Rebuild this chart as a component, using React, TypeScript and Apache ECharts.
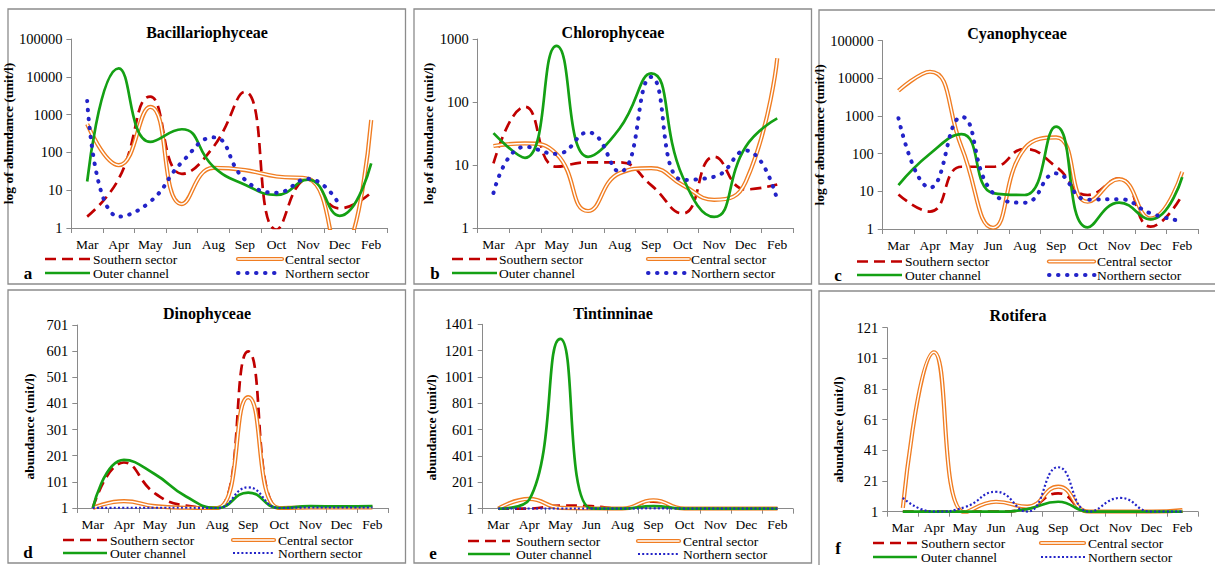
import React, { useEffect, useRef } from "react";
import * as echarts from "echarts";

const months = ["Mar", "Apr", "May", "Jun", "Aug", "Sep", "Oct", "Nov", "Dec", "Feb"];
const seriesNames = ["Southern sector", "Central sector", "Outer channel", "Northern sector"];

// (a) Bacillariophyceae
const bacSouthern = [2, 20, 3000, 27, 140, 4000, 0.9, 20, 3.3, 8.6];
const bacCentral = [560, 46, 1600, 4.3, 39, 34, 23, 20, 0.2, 720];
const bacOuter = [17, 16700, 190, 410, 42, 14, 7.5, 19, 2.1, 51];
const bacNorthern = [2300, 2, 5, 55, 250, 19, 8.6, 20, 4, null];

// (b) Chlorophyceae
const chlSouthern = [10.6, 84, 9.4, 11, 11, 4.8, 1.7, 13.5, 4.1, 4.9];
const chlCentral = [20, 22, 15, 1.86, 7.4, 8.9, 4.8, 2.8, 5.4, 495];
const chlOuter = [32, 13, 780, 13.5, 38, 285, 6.5, 1.5, 19.5, 55];
const chlNorthern = [3.6, 19.5, 15, 33, 7.8, 250, 5.8, 6.5, 17, 2.8];

// (c) Cyanophyceae
const cyaSouthern = [8.3, 2.9, 45, 45, 133, 45, 8, 22, 1.15, 8];
const cyaCentral = [4700, 15000, 150, 1.08, 138, 270, 5.3, 21, 1.9, 33];
const cyaOuter = [14.7, 100, 330, 9, 8, 520, 1.1, 5, 1.8, 24];
const cyaNorthern = [870, 12.5, 950, 9, 5, 30, 6, 6.2, 2.6, 1.6];

// (d) Dinophyceae
const dinSouthern = [1, 175, 57, 10, 1, 600, 1, 5, 5, 5];
const dinCentral = [1, 27, 8, 2, 1, 425, 1, 3, 3, 3];
const dinOuter = [1, 185, 130, 45, 1, 60, 1, 8, 7, 8];
const dinNorthern = [1, 2, 2, 2, 1, 80, 1, 3, 3, 3];

// (e) Tintinninae
const tinSouthern = [1, 2, 25, 20, 1, 55, 1, 1, 1, 1];
const tinCentral = [1, 75, 8, 3, 1, 65, 1, 1, 1, 1];
const tinOuter = [1, 70, 1290, 3, 1, 20, 1, 1, 1, 1];
const tinNorthern = [1, 1, 1, 1, 1, 3, 1, 1, 1, 1];

// (f) Rotifera
const rotSouthern = [1, 1, 1, 1, 3, 13, 1, 1, 1, 1];
const rotCentral = [3.5, 105, 0.5, 7.5, 4.3, 17.3, 1, 1, 1, 2];
const rotOuter = [1, 1, 1, 1, 2.7, 7.5, 1, 1, 1, 1];
const rotNorthern = [10, 1, 4, 14, 1, 30, 1, 10, 1, 1];

const RED = "#C00000";
const ORANGE = "#F07D22";
const GREEN = "#14A014";
const BLUE = "#2323C8";
const GRAY = "#8A8A8A";
const FONT = "Liberation Serif, serif";

type Panel = {
  letter: string;
  title: string;
  yName: string;
  log: boolean;
  yMax: number;
  interval?: number;
  data: (number | null)[][];
  box: number[];
  grid: number[];
  titleXY: number[];
  nameGap: number;
  namePad: number;
  letterXY: number[];
  c1: number[];
  c2: number[];
  rows: number[];
  fineDots: boolean;
};

const panels: Panel[] = [
  {
    letter: "a", title: "Bacillariophyceae", yName: "log of abundance (unit/l)", log: true, yMax: 100000,
    data: [bacSouthern, bacCentral, bacOuter, bacNorthern],
    box: [8, 9, 405.5, 284], grid: [71, 39, 387, 228], titleXY: [207, 32], nameGap: 43, namePad: 0,
    letterXY: [28, 273], c1: [45, 90, 93], c2: [237, 283, 285], rows: [259, 273], fineDots: false,
  },
  {
    letter: "b", title: "Chlorophyceae", yName: "log of abundance (unit/l)", log: true, yMax: 1000,
    data: [chlSouthern, chlCentral, chlOuter, chlNorthern],
    box: [414, 9, 811.5, 284], grid: [477.7, 39, 793, 228], titleXY: [613, 32], nameGap: 41, namePad: 0,
    letterXY: [435, 273], c1: [452, 497, 499], c2: [647, 690, 691], rows: [259, 273], fineDots: false,
  },
  {
    letter: "c", title: "Cyanophyceae", yName: "log of abundance (unit/l)", log: true, yMax: 100000,
    data: [cyaSouthern, cyaCentral, cyaOuter, cyaNorthern],
    box: [819, 10, 1217, 284], grid: [882.7, 40.7, 1198, 229], titleXY: [1017, 33], nameGap: 41, namePad: 0,
    letterXY: [838, 275], c1: [857, 902, 905], c2: [1048, 1095, 1097], rows: [261.5, 275], fineDots: false,
  },
  {
    letter: "d", title: "Dinophyceae", yName: "abundance (unit/l)", log: false, yMax: 701, interval: 100,
    data: [dinSouthern, dinCentral, dinOuter, dinNorthern],
    box: [8, 290, 405.5, 563], grid: [77.3, 325, 388, 508], titleXY: [207, 313], nameGap: 41, namePad: 20,
    letterXY: [28, 552], c1: [63, 107, 110], c2: [232, 275, 278], rows: [540, 553], fineDots: true,
  },
  {
    letter: "e", title: "Tintinninae", yName: "abundance (unit/l)", log: false, yMax: 1401, interval: 200,
    data: [tinSouthern, tinCentral, tinOuter, tinNorthern],
    box: [414, 290, 811.5, 563], grid: [482.7, 324.3, 793, 508.7], titleXY: [613, 313], nameGap: 44, namePad: 22,
    letterXY: [433, 553], c1: [468, 510, 516], c2: [637, 680, 683], rows: [541, 554], fineDots: true,
  },
  {
    letter: "f", title: "Rotifera", yName: "abundance (unit/l)", log: false, yMax: 121, interval: 20,
    data: [rotSouthern, rotCentral, rotOuter, rotNorthern],
    box: [819, 291, 1217, 567], grid: [887.3, 327.7, 1198, 511.7], titleXY: [1018, 315], nameGap: 42, namePad: 20,
    letterXY: [838, 548], c1: [873, 917, 921], c2: [1040, 1085, 1088], rows: [543, 557], fineDots: true,
  },
];

const dashStyle = [11, 6];

function northernStyle(fine: boolean) {
  return fine
    ? { color: BLUE, width: 2.2, type: [2, 2.2], cap: "butt" }
    : { color: BLUE, width: 4, type: [0.5, 8.5], cap: "round" };
}

function textEl(text: string, x: number, y: number, size: number, bold: boolean, align = "left") {
  return {
    type: "text",
    x,
    y,
    silent: true,
    style: {
      text,
      fontFamily: FONT,
      fontSize: size,
      fontWeight: bold ? "bold" : "normal",
      fill: "#000",
      align,
      textAlign: align,
      verticalAlign: "middle",
      textVerticalAlign: "middle",
    },
  };
}

function lineEl(x1: number, x2: number, y: number, style: any) {
  return { type: "line", silent: true, shape: { x1, y1: y, x2, y2: y }, style: { fill: "none", ...style } };
}

export default function App() {
  const ref = useRef<HTMLDivElement>(null);

  useEffect(() => {
    if (!ref.current) return;
    const chart = echarts.init(ref.current, null, { renderer: "svg" });

    const grids: any[] = [];
    const xAxes: any[] = [];
    const yAxes: any[] = [];
    const series: any[] = [];
    const graphics: any[] = [];

    panels.forEach((p, i) => {
      const [gl, gt, gr, gb] = p.grid;
      grids.push({ left: gl, top: gt, width: gr - gl, height: gb - gt, containLabel: false });
      xAxes.push({
        type: "category",
        gridIndex: i,
        data: months,
        boundaryGap: true,
        axisLine: { lineStyle: { color: GRAY, width: 1 } },
        axisTick: { show: true, length: 5, alignWithLabel: false, lineStyle: { color: GRAY } },
        axisLabel: { color: "#000", fontFamily: FONT, fontSize: 13.5, margin: 9, interval: 0 },
        splitLine: { show: false },
      });
      const common = {
        gridIndex: i,
        name: p.yName,
        nameLocation: "middle",
        nameGap: p.nameGap,
        nameTextStyle: {
          color: "#000",
          fontFamily: FONT,
          fontWeight: "bold",
          fontSize: 13.5,
          padding: [0, p.namePad, 0, 0],
        },
        axisLine: { show: true, lineStyle: { color: GRAY, width: 1 } },
        axisTick: { show: true, length: 5, lineStyle: { color: GRAY } },
        axisLabel: {
          color: "#000",
          fontFamily: FONT,
          fontSize: 14.5,
          margin: 9,
          formatter: (v: number) => String(Math.round(v)),
        },
        splitLine: { show: false },
      };
      if (p.log) {
        yAxes.push({ ...common, type: "log", logBase: 10, min: 1, max: p.yMax });
      } else {
        yAxes.push({ ...common, type: "value", min: 1, max: p.yMax, interval: p.interval });
      }

      const base = {
        type: "line",
        xAxisIndex: i,
        yAxisIndex: i,
        smooth: 0.5,
        symbol: "none",
        showSymbol: false,
        clip: true,
        silent: true,
        connectNulls: false,
      };
      const [s, c, o, n] = p.data;
      series.push({ ...base, name: seriesNames[0], data: s, z: 2, lineStyle: { color: RED, width: 2.7, type: dashStyle } });
      series.push({ ...base, name: seriesNames[1], data: c, z: 3, lineStyle: { color: ORANGE, width: 4.2 } });
      series.push({ ...base, name: seriesNames[1] + " ", data: c, z: 4, lineStyle: { color: "#ffffff", width: 1.5 } });
      series.push({ ...base, name: seriesNames[2], data: o, z: 5, lineStyle: { color: GREEN, width: 2.7 } });
      series.push({ ...base, name: seriesNames[3], data: n, z: 6, lineStyle: northernStyle(p.fineDots) });

      const [bx1, by1, bx2, by2] = p.box;
      graphics.push({
        type: "rect",
        silent: true,
        shape: { x: bx1, y: by1, width: bx2 - bx1, height: by2 - by1 },
        style: { fill: "none", stroke: "#8C8C8C", lineWidth: 1.3 },
      });
      graphics.push(textEl(p.title, p.titleXY[0], p.titleXY[1], 16, true, "center"));
      graphics.push(textEl(p.letter, p.letterXY[0], p.letterXY[1], 17, true, "center"));

      const [r1, r2] = p.rows;
      const [a1, a2, at] = p.c1;
      const [b1, b2, bt] = p.c2;
      graphics.push(lineEl(a1, a2, r1, { stroke: RED, lineWidth: 2.7, lineDash: dashStyle }));
      graphics.push(textEl(seriesNames[0], at, r1, 13.5, false));
      graphics.push(lineEl(b1 + 1, b2 - 1, r1, { stroke: ORANGE, lineWidth: 4.2, lineCap: "round" }));
      graphics.push(lineEl(b1 + 1, b2 - 1, r1, { stroke: "#ffffff", lineWidth: 1.5, lineCap: "round" }));
      graphics.push(textEl(seriesNames[1], bt, r1, 13.5, false));
      graphics.push(lineEl(a1, a2, r2, { stroke: GREEN, lineWidth: 2.7 }));
      graphics.push(textEl(seriesNames[2], at, r2, 13.5, false));
      const ns = northernStyle(p.fineDots);
      graphics.push(
        lineEl(b1 + 1, b2, r2, { stroke: BLUE, lineWidth: ns.width, lineDash: ns.type, lineCap: ns.cap })
      );
      graphics.push(textEl(seriesNames[3], bt, r2, 13.5, false));
    });

    chart.setOption({
      animation: false,
      backgroundColor: "#ffffff",
      textStyle: { fontFamily: FONT },
      grid: grids,
      xAxis: xAxes,
      yAxis: yAxes,
      series,
      graphic: { elements: graphics },
    });

    return () => {
      chart.dispose();
    };
  }, []);

  return (
    <div
      ref={ref}
      style={{ position: "fixed", left: 0, top: 0, width: 1215, height: 565, background: "#fff" }}
    />
  );
}
